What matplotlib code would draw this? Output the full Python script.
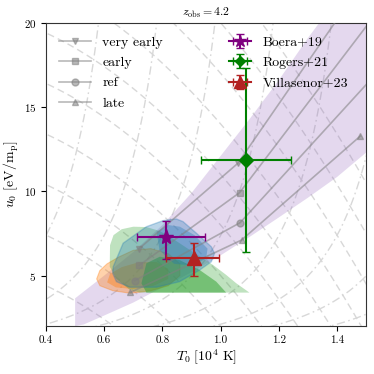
import numpy as np
import matplotlib.pyplot as plt
from matplotlib.lines import Line2D

plt.rcParams['font.family'] = 'serif'
plt.rcParams['font.serif'] = ['cmr10']
plt.rcParams['mathtext.fontset'] = 'cm'
plt.rcParams['axes.formatter.use_mathtext'] = True

# thermal history models (T0 in 1e4 K, u0 in eV/m_p)
model_names = ['very early', 'early', 'ref', 'late']
model_markers = ['v', 's', 'o', '^']
model_T0 = [[0.72, 1.059, 1.62], [0.72, 1.065, 1.62], [0.705, 1.067, 1.62], [0.69, 1.072, 1.48]]
model_u0 = [[6.6, 11.66, 25.7], [5.6, 9.92, 22.5], [4.7, 8.14, 18.6], [4.0, 7.11, 13.28]]

# measurements
obs_names = ['Boera+19', 'Rogers+21', 'Villasenor+23']
obs_colors = ['purple', 'green', 'firebrick']
obs_markers = ['*', 'D', '^']
obs_sizes = [11, 7, 10]
obs_T0 = [0.811, 1.088, 0.908]
obs_T0_lo = [0.097, 0.154, 0.094]
obs_T0_hi = [0.134, 0.154, 0.088]
obs_u0 = [7.31, 11.86, 6.03]
obs_u0_lo = [1.34, 5.48, 1.05]
obs_u0_hi = [0.95, 5.44, 0.89]

# shaded band
band_T0 = [0.5, 0.6, 0.7, 0.8, 0.9, 1.0, 1.1, 1.2, 1.3, 1.339, 1.5, 1.5,
           1.4, 1.3, 1.2, 1.1, 1.0, 0.9, 0.8, 0.7, 0.6, 0.53, 0.5]
band_u0 = [3.65, 5.0, 6.4, 8.0, 9.9, 12.1, 14.3, 16.6, 19.1, 20.0, 20.0, 12.3,
           10.85, 9.62, 8.45, 7.3, 6.2, 5.2, 4.3, 3.4, 2.63, 2.1, 2.0]

# posterior contours (outer, inner)
orange_out_T0 = [0.574, 0.585, 0.61, 0.65, 0.70, 0.76, 0.82, 0.86, 0.86, 0.82, 0.76, 0.69, 0.63, 0.585]
orange_out_u0 = [4.8, 5.3, 5.7, 6.1, 6.5, 6.6, 6.3, 5.7, 5.0, 4.4, 4.1, 3.95, 4.1, 4.4]
orange_in_T0 = [0.61, 0.62, 0.66, 0.72, 0.78, 0.82, 0.82, 0.77, 0.70, 0.64]
orange_in_u0 = [4.6, 5.1, 5.5, 5.8, 5.8, 5.4, 4.8, 4.4, 4.2, 4.3]

green_out_T0 = [0.619, 0.62, 0.632, 0.66, 0.70, 0.745, 0.79, 0.825, 0.894, 0.974, 1.019,
                1.054, 1.099, 0.722, 0.688, 0.642, 0.619]
green_out_u0 = [5.53, 6.8, 7.4, 7.75, 7.9, 7.88, 7.65, 7.31, 6.52, 5.63, 5.04,
                4.54, 3.99, 3.99, 4.15, 4.80, 5.53]
green_in_T0 = [0.728, 0.745, 0.791, 0.859, 0.928, 0.985, 1.019, 0.745]
green_in_u0 = [4.54, 5.73, 6.12, 5.92, 5.33, 4.64, 3.99, 3.99]

blue_out_T0 = [0.631, 0.665, 0.745, 0.802, 0.848, 0.871, 0.917, 0.968, 0.979, 0.968, 0.928, 0.859, 0.780, 0.688, 0.642, 0.629]
blue_out_u0 = [5.53, 6.92, 7.90, 8.26, 8.36, 8.20, 7.51, 6.71, 6.32, 5.82, 5.33, 4.64, 4.31, 4.31, 4.64, 5.14]
blue_in_T0 = [0.78, 0.82, 0.86, 0.91, 0.955, 0.95, 0.90, 0.84, 0.79]
blue_in_u0 = [7.6, 8.0, 7.9, 7.4, 6.6, 6.0, 5.6, 5.7, 6.5]

# background guide curves
dashdot_Ti = np.arange(0.86, 2.8, 0.2)
dashed_B = np.arange(3.0, 36.0, 3.0)

fig = plt.figure(figsize=(3.74, 3.74), dpi=100)
ax = fig.add_axes([0.123, 0.128, 0.856, 0.811])

T = np.linspace(0.3, 1.6, 400)
for Ti in dashdot_Ti:
    m = T < Ti - 0.01
    ax.plot(T[m], 1.5625 / (Ti - T[m])**2, color='#d8d8d8', lw=1.0,
            ls=(0, (6, 2.5, 1.2, 2.5)), zorder=0)
for B in dashed_B:
    ax.plot(T, B - 10 * T**2, color='#d8d8d8', lw=1.0, ls=(0, (5, 3)), zorder=0)

ax.fill(band_T0, band_u0, color='C4', alpha=0.25, lw=0, zorder=1)

ax.fill(orange_out_T0, orange_out_u0, color='C1', alpha=0.35, lw=0.8, ec='C1', zorder=2)
ax.fill(orange_in_T0, orange_in_u0, color='C1', alpha=0.4, lw=0, zorder=2)
ax.fill(green_out_T0, green_out_u0, color='C2', alpha=0.3, lw=0, zorder=2)
ax.fill(green_in_T0, green_in_u0, color='C2', alpha=0.5, lw=0, zorder=2)
ax.fill(blue_out_T0, blue_out_u0, color='C0', alpha=0.3, lw=1.0, ec='C0', zorder=2)
ax.fill(blue_in_T0, blue_in_u0, color='C0', alpha=0.35, lw=0, zorder=2)

for name, mk, t, u in zip(model_names, model_markers, model_T0, model_u0):
    ax.plot(t, u, color='gray', alpha=0.55, lw=1.2, marker=mk, ms=5, zorder=3)

obs_handles = []
for i in range(3):
    h = ax.errorbar(obs_T0[i], obs_u0[i],
                    xerr=[[obs_T0_lo[i]], [obs_T0_hi[i]]],
                    yerr=[[obs_u0_lo[i]], [obs_u0_hi[i]]],
                    color=obs_colors[i], marker=obs_markers[i], ms=obs_sizes[i],
                    capsize=3, lw=1.5, zorder=5, label=obs_names[i])
    obs_handles.append(h)

ax.set_xlim(0.4, 1.5)
ax.set_ylim(2, 20)
ax.set_xticks([0.4, 0.6, 0.8, 1.0, 1.2, 1.4])
ax.set_xticklabels(['0.4', '0.6', '0.8', '1.0', '1.2', '1.4'])
ax.set_yticks([5, 10, 15, 20])
ax.tick_params(labelsize=8, length=3.5, width=0.8)
for s in ax.spines.values():
    s.set_color('#333333')
ax.set_xlabel(r'$T_0\ [10^4\ {\rm K}]$', fontsize=10, labelpad=2)
ax.set_ylabel(r'$u_0\ [{\rm eV}/{\rm m_p}]$', fontsize=10, labelpad=2)
ax.set_title(r'$z_{\rm obs}=$4.2', fontsize=8.5, pad=5)

model_handles = [Line2D([], [], color='gray', alpha=0.55, lw=1.2, marker=mk, ms=5)
                 for mk in model_markers]
leg1 = ax.legend(model_handles, model_names, loc='upper left', frameon=False,
                 fontsize=10, handlelength=2.3, borderaxespad=0.55, labelspacing=0.55)
ax.add_artist(leg1)
ax.legend(obs_handles, obs_names, loc='upper right', frameon=False, fontsize=10,
          handlelength=1.6, borderaxespad=0.55, labelspacing=0.55, markerscale=0.8,
          bbox_to_anchor=(0.985, 1.0))

fig.savefig('out.png', dpi=100)
